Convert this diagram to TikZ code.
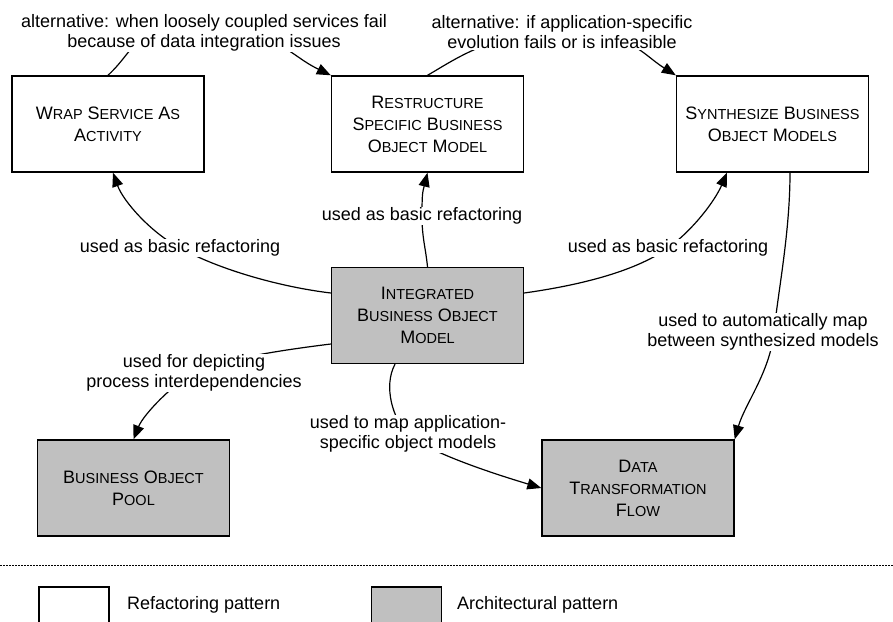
\documentclass[tikz,border=0pt]{standalone}
\usepackage{fontspec}
\setmainfont{Liberation Sans}
\usetikzlibrary{arrows.meta}
\definecolor{patgray}{RGB}{192,192,192}
\newcommand{\capw}[2]{#1{\fontsize{14.5}{22}\selectfont#2}}

\begin{document}
\begin{tikzpicture}[x=1pt,y=-1pt,
  pattern/.style={draw,line width=1.4pt,minimum width=192pt,minimum height=96pt,inner sep=0pt,align=center,font=\fontsize{18}{22}\selectfont},
  refpat/.style={pattern,fill=white},
  archpat/.style={pattern,fill=patgray},
  lbl/.style={fill=white,inner sep=1pt,align=center,font=\fontsize{18}{20}\selectfont},
  conn/.style={line width=1.2pt},
  arr/.style={conn,-{Triangle[length=14pt,width=11pt]}},
  legtext/.style={inner sep=0pt,anchor=west,font=\fontsize{18}{20}\selectfont}]
\path[use as bounding box,clip] (0,0) rectangle (893,621);

\node[refpat] (wrap) at (108,124) {\capw{W}{RAP} \capw{S}{ERVICE} \capw{A}{S}\\\capw{A}{CTIVITY}};
\node[refpat] (restr) at (427.5,124) {\capw{R}{ESTRUCTURE}\\\capw{S}{PECIFIC} \capw{B}{USINESS}\\\capw{O}{BJECT} \capw{M}{ODEL}};
\node[refpat] (synth) at (772.5,124) {\capw{S}{YNTHESIZE} \capw{B}{USINESS}\\\capw{O}{BJECT} \capw{M}{ODELS}};
\node[archpat] (integ) at (427.5,315.5) {\capw{I}{NTEGRATED}\\\capw{B}{USINESS} \capw{O}{BJECT}\\\capw{M}{ODEL}};
\node[archpat] (pool) at (133.5,488) {\capw{B}{USINESS} \capw{O}{BJECT}\\\capw{P}{OOL}};
\node[archpat] (data) at (638,488) {\capw{D}{ATA}\\\capw{T}{RANSFORMATION}\\\capw{F}{LOW}};

\coordinate (pA) at (204,33);
\coordinate (pB) at (562,32);
\coordinate (pC) at (180,248);
\coordinate (pD) at (422,216);
\coordinate (pE) at (668,248);
\coordinate (pF) at (194,373);
\coordinate (pG) at (408,434);
\coordinate (pH) at (763,332);

\draw[arr] (wrap.north) .. controls +(32,-30) and +(-80,0) .. (pA) .. controls +(80,0) and +(-45,-22) .. (restr.north west);
\draw[arr] (restr.north) .. controls +(28,-16) and +(-70,0) .. (pB) .. controls +(70,0) and +(-35,-22) .. (synth.north west);
\draw[arr] ([yshift=22.5pt]integ.west) .. controls +(-50,-6) and +(40,22) .. (pC) .. controls +(-30,-16) and +(10,28) .. ([xshift=5pt]wrap.south);
\draw[arr] (integ.north) .. controls +(-2,-20) and +(0,22) .. (pD) .. controls +(0,-22) and +(-5,20) .. (restr.south);
\draw[arr] ([yshift=22.5pt]integ.east) .. controls +(50,-7) and +(-35,25) .. (pE) .. controls +(25,-18) and +(-12,28) .. ([xshift=-45.5pt]synth.south);
\draw[arr] ([yshift=-28.5pt]integ.west) .. controls +(-40,5) and +(30,-15) .. (pF) .. controls +(-20,10) and +(10,-25) .. (pool.north);
\draw[arr] ([xshift=-32.5pt]integ.south) .. controls +(-12,22) and +(-15,-14) .. (pG) .. controls +(20,19) and +(-40,-12) .. (data.west);
\draw[arr] ([xshift=17.5pt]synth.south) .. controls +(0,60) and +(4,-40) .. ([xshift=11pt]pH) .. controls +(-4,40) and +(10,-35) .. (data.north east);

\node[lbl] (lA) at (pA) {alternative: when loosely coupled services fail\\because of data integration issues};
\node[lbl] (lB) at (pB) {alternative: if application-specific\\evolution fails or is infeasible};
\node[lbl] (lC) at (pC) {used as basic refactoring};
\node[lbl] (lD) at (pD) {used as basic refactoring};
\node[lbl] (lE) at (pE) {used as basic refactoring};
\node[lbl] (lF) at (pF) {used for depicting\\process interdependencies};
\node[lbl] (lG) at (pG) {used to map application-\\specific object models};
\node[lbl] (lH) at (pH) {used to automatically map\\between synthesized models};

\draw[line width=1pt,dash pattern=on 1.5pt off 1.5pt] (0,565) -- (893,565);
\node[refpat,minimum width=70pt,minimum height=66pt] (legref) at (74,620) {};
\node[archpat,minimum width=70pt,minimum height=66pt] (legarch) at (406.5,620) {};
\node[legtext] (legreftxt) at (127,605) {Refactoring pattern};
\node[legtext] (legarchtxt) at (457,605) {Architectural pattern};
\end{tikzpicture}
\end{document}
